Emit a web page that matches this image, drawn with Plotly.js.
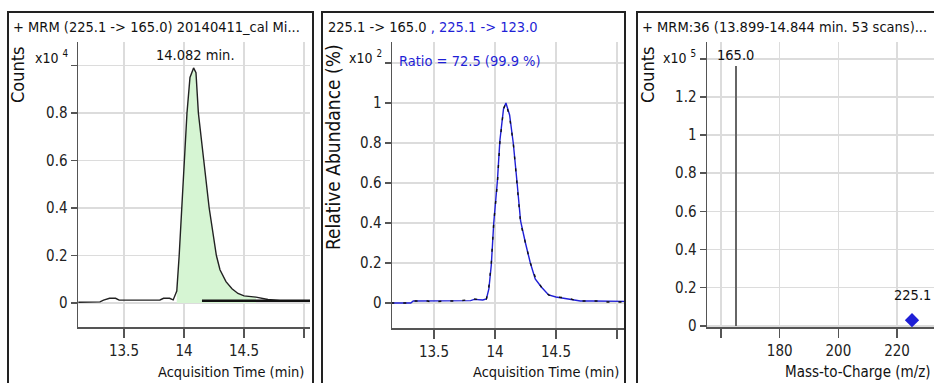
<!DOCTYPE html>
<html>
<head>
<meta charset="utf-8">
<script src="https://cdn.plot.ly/plotly-3.0.1.min.js"></script>
<style>
html,body{margin:0;padding:0;background:#fff;}
#chart{width:934px;height:383px;}
</style>
</head>
<body>
<div id="chart"></div>
<script>
// ---------- DATA ----------
// Panel 1: MRM 225.1 -> 165.0 chromatogram (Counts x10^4)
const rtTime1 = [13.12,13.3,13.33,13.38,13.43,13.46,13.6,13.8,13.83,13.88,13.91,13.94,13.96,13.98,14.0,14.025,14.05,14.08,14.1,14.12,14.165,14.21,14.27,14.3,14.35,14.4,14.45,14.5,14.6,14.7,14.8,14.9,15.05];
const counts165 = [0.003,0.005,0.012,0.02,0.02,0.012,0.012,0.013,0.02,0.02,0.013,0.05,0.2,0.4,0.6,0.8,0.95,0.99,0.97,0.8,0.6,0.4,0.2,0.14,0.09,0.06,0.04,0.03,0.025,0.015,0.01,0.008,0.008];
const peakStart = 13.94, peakEnd = 14.6;
const baselineTime = [14.15, 15.05];
const baselineCounts = [0.01, 0.01];

// Panel 2: qualifier overlay, relative abundance (% x10^2)
const rtTime2 = [13.15,13.31,13.33,13.45,13.47,13.6,13.7,13.8,13.83,13.9,13.93,13.95,13.97,13.99,14.02,14.04,14.07,14.09,14.12,14.15,14.18,14.21,14.25,14.29,14.33,14.38,14.44,14.5,14.6,14.65,14.7,14.8,14.85,14.9,15.07];
const rel165 = [0,0,0.01,0.01,0.005,0.01,0.01,0.015,0.02,0.015,0.02,0.08,0.2,0.4,0.6,0.8,0.97,1.0,0.93,0.8,0.6,0.4,0.3,0.2,0.13,0.08,0.04,0.03,0.025,0.015,0.01,0.01,0.01,0.005,0.005];
const rel123 = [0,0,0.01,0.01,0.01,0.01,0.01,0.012,0.018,0.015,0.02,0.07,0.19,0.4,0.61,0.81,0.97,1.0,0.94,0.8,0.61,0.41,0.3,0.2,0.12,0.08,0.04,0.03,0.02,0.015,0.01,0.01,0.01,0.008,0.008];

// Panel 3: product ion spectrum (Counts x10^5)
const mzProduct = [165.0];
const countsProduct = [1.36];
const mzPrecursor = [225.1];
const countsPrecursor = [0.03];

// Tick labels
const timeTicks = [13.5, 14, 14.5, 15];
const timeTickText = ['13.5', '14', '14.5', ' '];
const y1Ticks = [0, 0.2, 0.4, 0.6, 0.8, 1.0];
const y1TickText = ['0', '0.2', '0.4', '0.6', '0.8', ' '];
const y2Ticks = [0, 0.2, 0.4, 0.6, 0.8, 1.0, 1.2];
const y2TickText = ['0', '0.2', '0.4', '0.6', '0.8', '1', ' '];
const mzTicks = [160, 180, 200, 220];
const mzTickText = [' ', '180', '200', '220'];
const y3Ticks = [0, 0.2, 0.4, 0.6, 0.8, 1.0, 1.2, 1.4];
const y3TickText = ['0', '0.2', '0.4', '0.6', '0.8', '1', '1.2', ' '];

// ---------- LAYOUT HELPERS ----------
const W = 934, H = 383;
const px = x => x / W;
const py = y => 1 - y / H;
const FONT = "'DejaVu Sans Condensed', 'Liberation Sans', Arial, sans-serif";
const BLUE = '#1f1fd6';

const fillX = [], fillY = [];
rtTime1.forEach((t, i) => { if (t >= peakStart && t <= peakEnd) { fillX.push(t); fillY.push(counts165[i]); } });

const traces = [
  {x: fillX, y: fillY, type: 'scatter', mode: 'lines', fill: 'tozeroy', fillcolor: '#d6f5d3', line: {width: 0}, xaxis: 'x', yaxis: 'y', hoverinfo: 'skip'},
  {x: rtTime1, y: counts165, type: 'scatter', mode: 'lines', line: {color: '#222', width: 1.4}, xaxis: 'x', yaxis: 'y'},
  {x: baselineTime, y: baselineCounts, type: 'scatter', mode: 'lines', line: {color: '#111', width: 2.5}, xaxis: 'x', yaxis: 'y'},
  {x: rtTime2, y: rel123, type: 'scatter', mode: 'lines', line: {color: BLUE, width: 1.4}, xaxis: 'x2', yaxis: 'y2'},
  {x: rtTime2, y: rel165, type: 'scatter', mode: 'lines', line: {color: '#111', width: 1.4, dash: '3px,9px'}, xaxis: 'x2', yaxis: 'y2'},
  {x: mzProduct, y: countsProduct, type: 'bar', width: 0.8, marker: {color: '#666', line: {width: 0}}, xaxis: 'x3', yaxis: 'y3'},
  {x: mzPrecursor, y: countsPrecursor, type: 'scatter', mode: 'markers', marker: {symbol: 'diamond', color: BLUE, size: 11}, xaxis: 'x3', yaxis: 'y3'}
];

function xax(domain, range, tv, tt) {
  return {domain: domain, range: range, tickvals: tv, ticktext: tt, showgrid: true, gridcolor: '#dcdcdc', gridwidth: 1.5,
    zeroline: false, showline: true, linecolor: '#555', linewidth: 1.5, ticks: 'outside', ticklen: 9, tickwidth: 1.5, tickcolor: '#555',
    tickfont: {family: FONT, size: 15, color: '#222'}, fixedrange: true};
}
function yax(domain, range, tv, tt, anchor) {
  return {domain: domain, range: range, tickvals: tv, ticktext: tt, showgrid: true, gridcolor: '#dcdcdc', gridwidth: 1.5,
    zeroline: false, showline: true, linecolor: '#555', linewidth: 1.5, ticks: 'outside', ticklen: 6, tickwidth: 1.5, tickcolor: '#555',
    tickfont: {family: FONT, size: 15, color: '#222'}, anchor: anchor, fixedrange: true};
}

const yDom = [py(327), py(42)];
const layout = {
  width: W, height: H, margin: {l: 0, r: 0, t: 0, b: 0}, showlegend: false,
  paper_bgcolor: '#fff', plot_bgcolor: '#fff', bargap: 0,
  xaxis: Object.assign(xax([px(78), px(310)], [13.117, 15.05], timeTicks, timeTickText), {anchor: 'y'}),
  yaxis: yax(yDom, [-0.101, 1.099], y1Ticks, y1TickText, 'x'),
  xaxis2: Object.assign(xax([px(392), px(625)], [13.156, 15.066], timeTicks, timeTickText), {anchor: 'y2'}),
  yaxis2: yax([py(328), py(42)], [-0.125, 1.305], y2Ticks, y2TickText, 'x2'),
  xaxis3: Object.assign(xax([px(707), 1], [155.2, 232.6], mzTicks, mzTickText), {anchor: 'y3'}),
  yaxis3: yax(yDom, [-0.006, 1.488], y3Ticks, y3TickText, 'x3'),
  shapes: [
    {type: 'rect', xref: 'paper', yref: 'paper', x0: px(8), x1: px(313), y0: -0.05, y1: py(12), line: {color: '#222', width: 2}},
    {type: 'rect', xref: 'paper', yref: 'paper', x0: px(322), x1: px(625), y0: -0.05, y1: py(12), line: {color: '#222', width: 2}},
    {type: 'rect', xref: 'paper', yref: 'paper', x0: px(637), x1: 1.05, y0: -0.05, y1: py(12), line: {color: '#222', width: 2}}
  ],
  annotations: []
};

function txt(text, x, y, opts) {
  return Object.assign({text: text, xref: 'paper', yref: 'paper', x: px(x), y: py(y), showarrow: false,
    xanchor: 'left', yanchor: 'middle', font: {family: FONT, size: 14.5, color: '#111'}}, opts || {});
}
const A = layout.annotations;
// Panel 1
A.push(txt('+ MRM (225.1 -&gt; 165.0) 20140411_cal Mi...', 11, 27));
A.push(txt('Counts', 18, 75, {textangle: -90, xanchor: 'center', font: {family: FONT, size: 18, color: '#111'}}));
A.push(txt('x10 <sup>4</sup>', 33, 57, {font: {family: FONT, size: 14, color: '#111'}}));
A.push(txt('14.082 min.', 195, 55, {xanchor: 'center'}));
A.push(txt('Acquisition Time (min)', 306, 372, {xanchor: 'right', font: {family: FONT, size: 14.5, color: '#111'}}));
// Panel 2
A.push(txt('225.1 -&gt; 165.0&nbsp;<span style="color:' + BLUE + '">, 225.1 -&gt; 123.0</span>', 326, 27, {font: {family: FONT, size: 14.5, color: '#111'}}));
A.push(txt('Relative Abundance (%)', 333, 147, {textangle: -90, xanchor: 'center', font: {family: FONT, size: 19, color: '#111'}}));
A.push(txt('x10 <sup>2</sup>', 347, 57, {font: {family: FONT, size: 14, color: '#111'}}));
A.push(txt('Ratio = 72.5 (99.9 %)', 397, 61, {font: {family: FONT, size: 14.5, color: BLUE}}));
A.push(txt('Acquisition Time (min)', 621, 372, {xanchor: 'right', font: {family: FONT, size: 14.5, color: '#111'}}));
// Panel 3
A.push(txt('+ MRM:36 (13.899-14.844 min. 53 scans)...', 640, 27, {font: {family: FONT, size: 14.5, color: '#111'}}));
A.push(txt('Counts', 648, 75, {textangle: -90, xanchor: 'center', font: {family: FONT, size: 18, color: '#111'}}));
A.push(txt('x10 <sup>5</sup>', 661, 57, {font: {family: FONT, size: 14, color: '#111'}}));
A.push({text: '165.0', xref: 'x3', yref: 'paper', x: mzProduct[0], y: py(55), showarrow: false, xanchor: 'center', yanchor: 'middle', font: {family: FONT, size: 14.5, color: '#111'}});
A.push({text: '225.1', xref: 'x3', yref: 'paper', x: mzPrecursor[0], y: py(295), showarrow: false, xanchor: 'center', yanchor: 'middle', font: {family: FONT, size: 14.5, color: '#111'}});
A.push(txt('Mass-to-Charge (m/z)', 933, 372, {xanchor: 'right', font: {family: FONT, size: 15, color: '#111'}}));

Plotly.newPlot('chart', traces, layout, {displayModeBar: false, staticPlot: true});
</script>
</body>
</html>
